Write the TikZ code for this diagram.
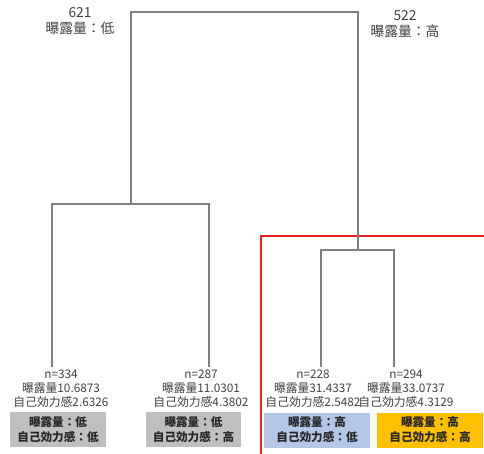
\documentclass[tikz,border=0pt]{standalone}
\usepackage{fontspec}
\setmainfont{Noto Sans CJK JP}
\definecolor{linegray}{HTML}{808080}
\definecolor{txtgray}{HTML}{404040}
\definecolor{boxgray}{HTML}{BFBFBF}
\definecolor{boxblue}{HTML}{B4C7E7}
\definecolor{boxorange}{HTML}{FFC000}
\definecolor{redline}{HTML}{E02424}
\begin{document}
\begin{tikzpicture}[x=1pt,y=-1pt,
  branch/.style={draw=linegray,line width=1.2pt},
  toplabel/.style={align=center,font=\fontsize{13.8}{16}\selectfont,text=txtgray,inner sep=0pt},
  leaflabel/.style={align=center,font=\fontsize{11.8}{14}\selectfont,text=txtgray,inner sep=0pt,anchor=north},
  leafbox/.style={minimum height=35pt,inner sep=0pt,align=center,font=\bfseries\fontsize{11.6}{15}\selectfont,text=black!85}]
\useasboundingbox (0,0) rectangle (484,454);
% red frame
\draw[redline,line width=1.8pt] (261,456) -- (261,236) -- (486,236);
% junction coordinates
\coordinate (rootL) at (131,12);
\coordinate (rootR) at (358,12);
\coordinate (splitL) at (131,204);
\coordinate (splitR) at (358,250);
\coordinate (l1) at (52,204);
\coordinate (l2) at (209,204);
\coordinate (r1) at (321,250);
\coordinate (r2) at (394,250);
\coordinate (l1e) at (52,367);
\coordinate (l2e) at (209,367);
\coordinate (r1e) at (321,367);
\coordinate (r2e) at (394,367);
% tree
\draw[branch] (splitL) -- (rootL) -- (rootR) -- (splitR);
\draw[branch] (l1e) -- (l1) -- (l2) -- (l2e);
\draw[branch] (r1e) -- (r1) -- (r2) -- (r2e);
% top labels
\node[toplabel] (tl) at (80,21) {621\\曝露量：低};
\node[toplabel] (tr) at (405,24) {522\\曝露量：高};
% leaf labels
\node[leaflabel] (t1) at (61,369.5) {n=334\\曝露量10.6873\\自己効力感2.6326};
\node[leaflabel] (t2) at (201,369.5) {n=287\\曝露量11.0301\\自己効力感4.3802};
\node[leaflabel] (t3) at (313,369.5) {n=228\\曝露量31.4337\\自己効力感2.5482};
\node[leaflabel] (t4) at (406,369.5) {n=294\\曝露量33.0737\\自己効力感4.3129};
% leaf boxes
\node[leafbox,fill=boxgray,minimum width=96pt] (b1) at (58,429.5) {曝露量：低\\自己効力感：低};
\node[leafbox,fill=boxgray,minimum width=95pt] (b2) at (193.5,429.5) {曝露量：低\\自己効力感：高};
\node[leafbox,fill=boxblue,minimum width=106pt] (b3) at (317,430) {曝露量：高\\自己効力感：低};
\node[leafbox,fill=boxorange,minimum width=106pt] (b4) at (430,430) {曝露量：高\\自己効力感：高};
\end{tikzpicture}
\end{document}
